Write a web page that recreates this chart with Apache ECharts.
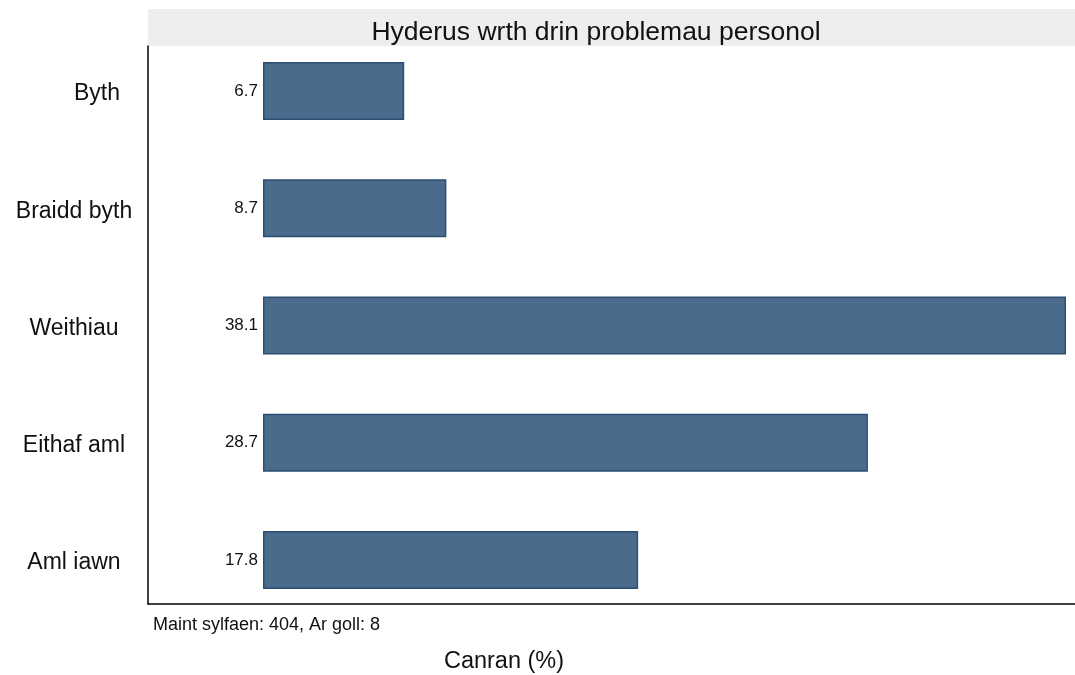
<!DOCTYPE html>
<html>
<head>
<meta charset="utf-8">
<script src="https://cdn.jsdelivr.net/npm/echarts@6/dist/echarts.min.js"></script>
<style>
html,body{margin:0;padding:0;background:#fff;}
#chart{width:1075px;height:675px;}
</style>
</head>
<body>
<div id="chart"></div>
<script>
const categories = ['Byth', 'Braidd byth', 'Weithiau', 'Eithaf aml', 'Aml iawn'];
const values = [6.7, 8.7, 38.1, 28.7, 17.8];
const titleText = 'Hyderus wrth drin problemau personol';
const noteText = 'Maint sylfaen: 404, Ar goll: 8';
const axisTitle = 'Canran (%)';

const FONT = '"Liberation Sans", Arial, Helvetica, sans-serif';
const chart = echarts.init(document.getElementById('chart'));

const option = {
  backgroundColor: '#ffffff',
  animation: false,
  textStyle: { fontFamily: FONT },
  title: [
    {
      text: titleText,
      left: 591, top: 14, textAlign: 'center',
      textStyle: { fontFamily: FONT, fontSize: 26.5, fontWeight: 'normal', color: '#111' }
    },
    {
      text: noteText,
      left: 148, top: 611,
      textStyle: { fontFamily: FONT, fontSize: 18, fontWeight: 'normal', color: '#111' }
    },
    {
      text: axisTitle,
      left: 499, top: 645, textAlign: 'center',
      textStyle: { fontFamily: FONT, fontSize: 23.5, fontWeight: 'normal', color: '#111' }
    }
  ],
  graphic: [
    {
      type: 'rect', z: -1, silent: true,
      shape: { x: 148, y: 9, width: 927, height: 37 },
      style: { fill: '#eeeeee' }
    }
  ],
  grid: [
    { left: 148, right: 0, top: 32.4, bottom: 56.35, containLabel: false },
    { left: 148, right: 0, top: 46, bottom: 71, containLabel: false }
  ],
  xAxis: [
    { type: 'value', gridIndex: 0, min: -5.456, max: 38.527, show: false },
    {
      type: 'value', gridIndex: 1, min: 0, max: 1,
      axisLine: { show: true, lineStyle: { color: '#000', width: 1.5 } },
      axisTick: { show: false }, axisLabel: { show: false }, splitLine: { show: false }
    }
  ],
  yAxis: [
    {
      type: 'category', gridIndex: 0, data: categories, inverse: true,
      axisLine: { show: false }, axisTick: { show: false }, splitLine: { show: false },
      axisLabel: {
        margin: 74, align: 'center', color: '#111', fontSize: 23, fontFamily: FONT,
        formatter: function (v) { return v === 'Byth' ? '{b|' + v + '}' : '{a|' + v + '}'; },
        rich: {
          a: { fontSize: 23, fontFamily: FONT, color: '#111', padding: [6, 0, 0, 0] },
          b: { fontSize: 23, fontFamily: FONT, color: '#111', padding: [6, 0, 0, 46] }
        }
      }
    },
    {
      type: 'value', gridIndex: 1, min: 0, max: 1,
      axisLine: { show: true, onZero: false, lineStyle: { color: '#000', width: 1.5 } },
      axisTick: { show: false }, axisLabel: { show: false }, splitLine: { show: false }
    }
  ],
  series: [
    {
      type: 'bar', xAxisIndex: 0, yAxisIndex: 0,
      data: values, barWidth: 58,
      itemStyle: { color: '#4a6b8c', borderColor: '#2b4e72', borderWidth: 1.5 },
      label: {
        show: true, position: 'left', distance: 5,
        fontSize: 17, fontFamily: FONT, color: '#111',
        formatter: function (p) { return p.value.toFixed(1); }
      }
    }
  ]
};
chart.setOption(option);
</script>
</body>
</html>
